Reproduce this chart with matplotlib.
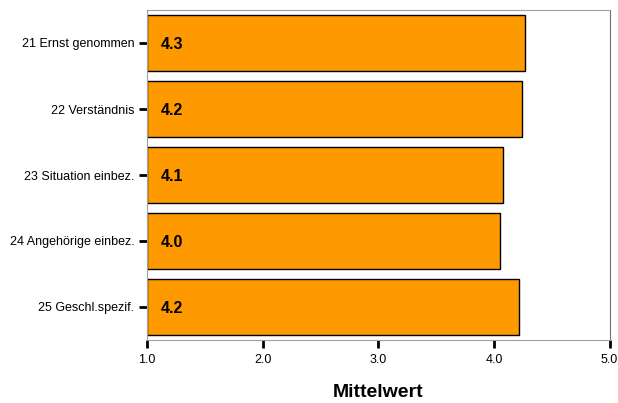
import numpy as np
import matplotlib
matplotlib.use('Agg')
import matplotlib.pyplot as plt

plt.rcParams['font.family'] = ['Liberation Sans', 'DejaVu Sans']

labels = ['21 Ernst genommen', '22 Verständnis', '23 Situation einbez.',
          '24 Angehörige einbez.', '25 Geschl.spezif.']
values = [4.27, 4.24, 4.08, 4.05, 4.22]
xticks = [1.0, 2.0, 3.0, 4.0, 5.0]

fig = plt.figure(figsize=(6.18, 4.03), dpi=100)
ax = fig.add_axes([147/618, 1 - 340/403, (609.5 - 147)/618, 330/403])

y = np.arange(len(labels))
ax.barh(y, np.array(values) - 1.0, left=1.0, height=0.85,
        color='#FF9900', edgecolor='black', linewidth=1.0)

for yi, v in zip(y, values):
    ax.text(1.12, yi + 0.02, '%.1f' % v, ha='left', va='center',
            fontsize=11.5, fontweight='bold', color='black')

ax.set_xlim(1.0, 5.0)
ax.set_ylim(len(labels) - 0.5, -0.5)
ax.set_yticks(y)
ax.set_yticklabels(labels, fontsize=9)
ax.set_xticks(xticks)
ax.set_xticklabels(['%.1f' % t for t in xticks], fontsize=9)
ax.tick_params(axis='y', length=6, width=2, color='black', pad=3)
ax.tick_params(axis='x', length=6, width=2, color='black', pad=4)

for s in ['top', 'left', 'bottom']:
    ax.spines[s].set_color('#a0a0a0')
ax.spines['right'].set_color('#707070')

ax.set_xlabel('Mittelwert', fontsize=14, fontweight='bold', labelpad=13)

plt.savefig('out.png', dpi=100)
